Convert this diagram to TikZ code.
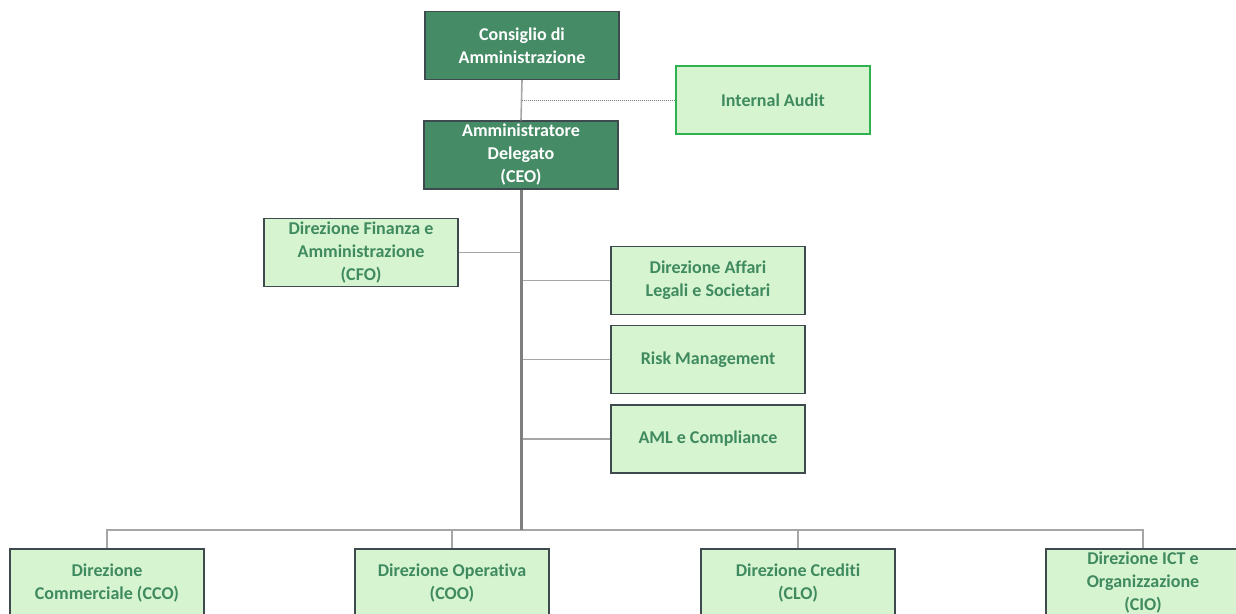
\documentclass[tikz,border=0pt]{standalone}
\usepackage{fontspec}
\setmainfont{Carlito}[Ligatures=NoCommon]
\definecolor{darkbox}{HTML}{458C66}
\definecolor{lightbox}{HTML}{D7F4D1}
\definecolor{boxline}{HTML}{3E4A4E}
\definecolor{auditline}{HTML}{2DB24F}
\definecolor{textgreen}{HTML}{3F8A5E}
\definecolor{linegray}{HTML}{A6A6A6}
\definecolor{trunkgray}{HTML}{7F7F7F}
\begin{document}
\begin{tikzpicture}[x=1pt, y=-1pt,
    board/.style={draw=boxline, fill=darkbox, text=white, line width=1.1pt,
      minimum width=194pt, minimum height=68pt, inner sep=0pt, align=center,
      font=\bfseries\fontsize{18}{23}\selectfont},
    unit/.style={board, fill=lightbox, text=textgreen},
    link/.style={draw=linegray, line width=1.6pt},
    trunk/.style={draw=trunkgray, line width=3pt}]
      \clip (0, 0) rectangle (1236, 613);

      \node[board] (cda) at (522, 45.5) {Consiglio di\\Amministrazione};
      \node[board] (ceo) at (521, 155) {Amministratore\\Delegato\\(CEO)};
      \node[unit, draw=auditline] (audit) at (773, 100) {Internal Audit};

      \node[unit] (cfo) at (361, 252.5) {Direzione Finanza e\\Amministrazione\\(CFO)};
      \node[unit] (legal) at (708, 280.5) {Direzione Affari\\Legali e Societari};
      \node[unit] (risk) at (708, 359.5) {Risk Management};
      \node[unit] (aml) at (708, 439) {AML e Compliance};

      \node[unit] (cco) at (107, 583) {Direzione\\Commerciale (CCO)};
      \node[unit] (coo) at (452, 583) {Direzione Operativa\\(COO)};
      \node[unit] (clo) at (798, 583) {Direzione Crediti\\(CLO)};
      \node[unit] (cio) at (1143, 583) {Direzione ICT e\\Organizzazione\\(CIO)};

      \coordinate (bus) at (521, 530);

      % vertici
      \draw[link] (cda.south) -- (ceo.north);
      \draw[draw=trunkgray, line width=1pt, densely dotted] (audit.west) -- (audit.west -| cda.south);

      % staff
      \draw[link] (cfo.east) -- (cfo.east -| ceo.south);
      \draw[link] (legal.west) -- (legal.west -| ceo.south);
      \draw[link] (risk.west) -- (risk.west -| ceo.south);
      \draw[link] (aml.west) -- (aml.west -| ceo.south);

      % linee operative
      \draw[link] (cco.north) |- (cio.north |- bus) -- (cio.north);
      \draw[link] (coo.north) -- (coo.north |- bus);
      \draw[link] (clo.north) -- (clo.north |- bus);
      \draw[trunk] (ceo.south) -- (bus);
    \end{tikzpicture}
\end{document}
